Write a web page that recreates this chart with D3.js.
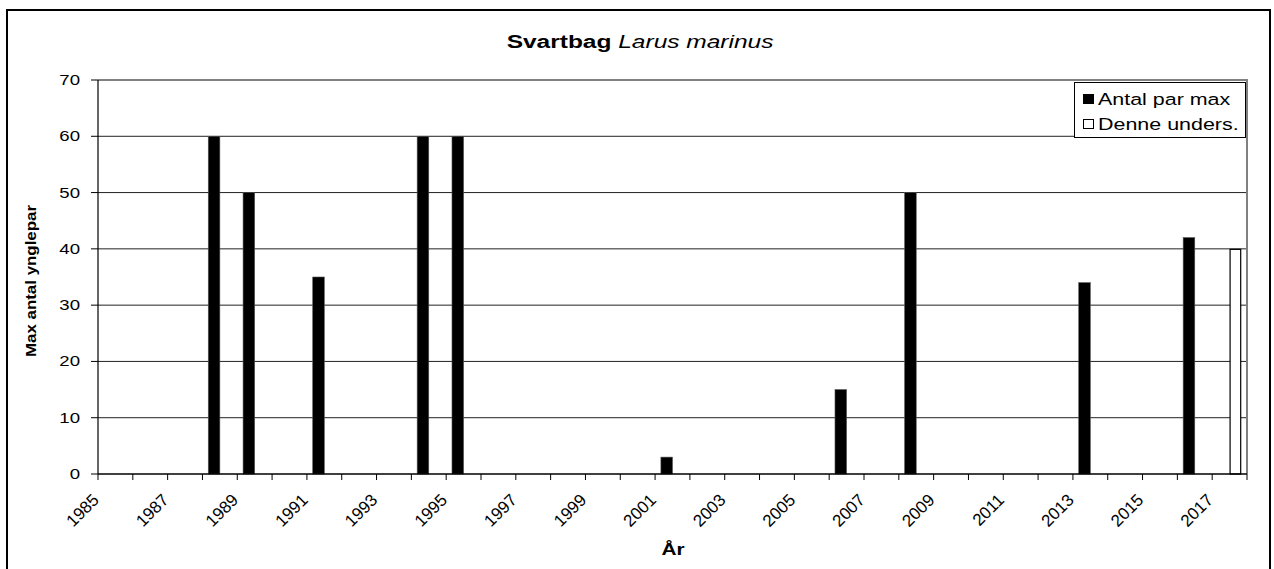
<!DOCTYPE html>
<html>
<head>
<meta charset="utf-8">
<script src="https://cdn.jsdelivr.net/npm/d3@7"></script>
<style>
  body { margin: 0; background: #fff; }
  svg { display: block; font-family: "Liberation Sans", Arial, sans-serif; }
</style>
</head>
<body>
<div id="chart"></div>
<script>
// categories (one per year on the x axis)
const years = [1985, 1986, 1987, 1988, 1989, 1990, 1991, 1992, 1993, 1994, 1995,
  1996, 1997, 1998, 1999, 2000, 2001, 2002, 2003, 2004, 2005, 2006, 2007, 2008,
  2009, 2010, 2011, 2012, 2013, 2014, 2015, 2016, 2017];
const labelYears = [1985, 1987, 1989, 1991, 1993, 1995, 1997, 1999, 2001, 2003,
  2005, 2007, 2009, 2011, 2013, 2015, 2017];

// series: Antal par max
const maxYears = [1988, 1989, 1991, 1994, 1995, 2001, 2006, 2008, 2013, 2016];
const maxValues = [60, 50, 35, 60, 60, 3, 15, 50, 34, 42];

// series: Denne unders.
const surveyYears = [2017];
const surveyValues = [40];

const seriesNames = ['Antal par max', 'Denne unders.'];
const yTicks = [0, 10, 20, 30, 40, 50, 60, 70];

const W = 1274, H = 569;
const margin = { top: 80, right: 27, bottom: 95, left: 98 };
const sx = 1.33; // the original text is drawn a bit wide

const svg = d3.select('#chart').append('svg')
  .attr('width', W)
  .attr('height', H);

// outer frame
svg.append('rect')
  .attr('x', 7).attr('y', 10)
  .attr('width', 1263).attr('height', 600)
  .attr('fill', 'none')
  .attr('stroke', '#000')
  .attr('stroke-width', 2);

const x = d3.scaleBand()
  .domain(years)
  .range([margin.left, W - margin.right]);

const xSub = d3.scaleBand()
  .domain(seriesNames)
  .range([x.bandwidth() / 6, x.bandwidth() * 5 / 6]);

const y = d3.scaleLinear()
  .domain([0, 70])
  .range([H - margin.bottom, margin.top]);

const x0 = margin.left, x1 = W - margin.right;

// gridlines
svg.append('g')
  .selectAll('line')
  .data(yTicks.filter(d => d > 0 && d < 70))
  .join('line')
  .attr('x1', x0).attr('x2', x1)
  .attr('y1', d => y(d)).attr('y2', d => y(d))
  .attr('stroke', '#222')
  .attr('stroke-width', 1);

// plot border top and right (grey)
svg.append('path')
  .attr('d', `M${x0},${y(70)}H${x1}V${y(0)}`)
  .attr('fill', 'none')
  .attr('stroke', '#808080')
  .attr('stroke-width', 2);

// bars
const bars = svg.append('g');
bars.selectAll('rect.max')
  .data(maxYears.map((yr, i) => ({ yr, v: maxValues[i] })))
  .join('rect')
  .attr('class', 'max')
  .attr('x', d => x(d.yr) + xSub(seriesNames[0]))
  .attr('width', xSub.bandwidth())
  .attr('y', d => y(d.v))
  .attr('height', d => y(0) - y(d.v))
  .attr('fill', '#000')
  .attr('stroke', '#555')
  .attr('stroke-width', 0.6);

bars.selectAll('rect.survey')
  .data(surveyYears.map((yr, i) => ({ yr, v: surveyValues[i] })))
  .join('rect')
  .attr('class', 'survey')
  .attr('x', d => x(d.yr) + xSub(seriesNames[1]) + 0.5)
  .attr('width', xSub.bandwidth() - 1)
  .attr('y', d => y(d.v) + 0.5)
  .attr('height', d => y(0) - y(d.v) - 0.5)
  .attr('fill', '#fff')
  .attr('stroke', '#000')
  .attr('stroke-width', 1.2);

// y axis
const yAxis = svg.append('g');
yAxis.append('line')
  .attr('x1', x0).attr('x2', x0)
  .attr('y1', y(70)).attr('y2', y(0))
  .attr('stroke', '#000').attr('stroke-width', 1.2);
yAxis.selectAll('line.tick')
  .data(yTicks)
  .join('line')
  .attr('class', 'tick')
  .attr('x1', x0 - 7).attr('x2', x0)
  .attr('y1', d => y(d)).attr('y2', d => y(d))
  .attr('stroke', '#000').attr('stroke-width', 1);
yAxis.selectAll('text')
  .data(yTicks)
  .join('text')
  .attr('transform', d => `translate(80,${y(d) + 5}) scale(${sx},1)`)
  .attr('text-anchor', 'end')
  .style('font-size', '14px')
  .text(d => d);

// x axis
const xAxis = svg.append('g');
xAxis.append('line')
  .attr('x1', x0).attr('x2', x1)
  .attr('y1', y(0)).attr('y2', y(0))
  .attr('stroke', '#000').attr('stroke-width', 1.5);
const tickPos = years.map(d => x(d)).concat([x1]);
xAxis.selectAll('line.tick')
  .data(tickPos)
  .join('line')
  .attr('class', 'tick')
  .attr('x1', d => d).attr('x2', d => d)
  .attr('y1', y(0)).attr('y2', y(0) + 6)
  .attr('stroke', '#000').attr('stroke-width', 1);
xAxis.selectAll('text')
  .data(labelYears)
  .join('text')
  .attr('transform', d => `translate(${x(d) + 2},${y(0) + 27}) rotate(-45)`)
  .attr('text-anchor', 'end')
  .style('font-size', '17px')
  .text(d => d);

// axis titles
svg.append('text')
  .attr('transform', `translate(673,555) scale(1.3,1)`)
  .attr('text-anchor', 'middle')
  .style('font-size', '16px')
  .style('font-weight', 'bold')
  .text('År');

svg.append('text')
  .attr('transform', `translate(36,281) rotate(-90)`)
  .attr('text-anchor', 'middle')
  .attr('textLength', 152)
  .attr('lengthAdjust', 'spacingAndGlyphs')
  .style('font-size', '14px')
  .style('font-weight', 'bold')
  .text('Max antal ynglepar');

// title
const title = svg.append('text')
  .attr('transform', `translate(640,48) scale(1.29,1)`)
  .attr('text-anchor', 'middle')
  .style('font-size', '19px');
title.append('tspan').style('font-weight', 'bold').text('Svartbag ');
title.append('tspan').style('font-style', 'italic').text('Larus marinus');

// legend
const lg = svg.append('g');
lg.append('rect')
  .attr('x', 1074.5).attr('y', 82.5)
  .attr('width', 171).attr('height', 55)
  .attr('fill', '#fff')
  .attr('stroke', '#000').attr('stroke-width', 1);
seriesNames.forEach((name, i) => {
  const cy = 99 + i * 25;
  lg.append('rect')
    .attr('x', 1083.5).attr('y', cy - 4.5)
    .attr('width', 10).attr('height', 9)
    .attr('fill', i === 0 ? '#000' : '#fff')
    .attr('stroke', '#000').attr('stroke-width', 1);
  lg.append('text')
    .attr('transform', `translate(1098,${cy + 6}) scale(1.3,1)`)
    .style('font-size', '16.5px')
    .text(name);
});
</script>
</body>
</html>
